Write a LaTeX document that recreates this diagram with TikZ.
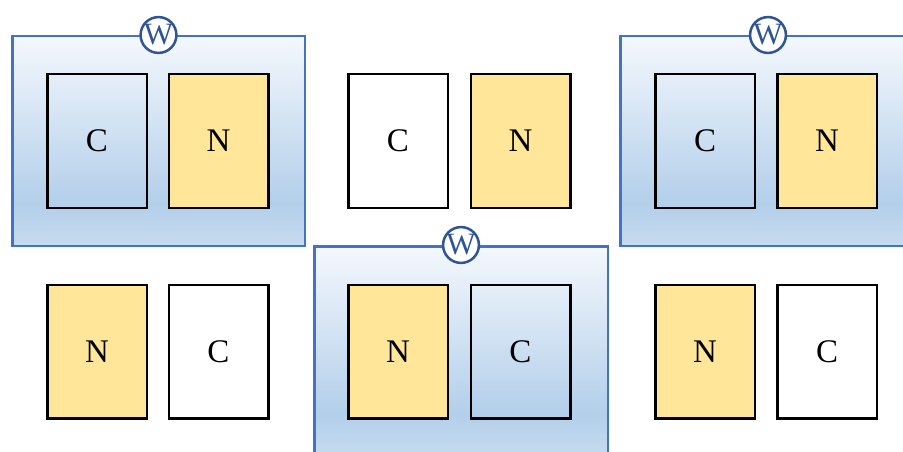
\documentclass[tikz,border=0pt]{standalone}
\usepackage{fontspec}
\setmainfont{Liberation Serif}
\definecolor{frameblue}{HTML}{4472C4}
\definecolor{wblue}{HTML}{2F5597}
\definecolor{nyellow}{HTML}{FFE699}
\definecolor{gtop}{HTML}{F4F8FD}
\definecolor{gmid}{HTML}{B3CFEA}
\definecolor{gbot}{HTML}{C6DBEF}
\pgfdeclareverticalshading{wbox}{100bp}{color(0bp)=(gbot); color(25bp)=(gbot); color(35bp)=(gmid); color(75bp)=(gtop); color(100bp)=(gtop)}
\tikzset{
  frame/.style={draw=frameblue, line width=2.5pt, shading=wbox, rectangle, inner sep=0pt},
  cbox/.style={draw=black, line width=2.5pt, rectangle, minimum width=99.5pt, minimum height=133.5pt, inner sep=0pt, font=\fontsize{33}{34}\selectfont},
  nbox/.style={cbox, fill=nyellow},
  wcirc/.style={circle, draw=wblue, fill=white, line width=2.5pt, minimum size=35.5pt, inner sep=0pt, text=wblue, font=\fontsize{31}{32}\selectfont}
}
\begin{document}
\begin{tikzpicture}[x=1pt,y=-1pt]
\useasboundingbox (0,0) rectangle (903,452);
\clip (0,0) rectangle (903,452);
% frames
\node[frame, minimum width=292.5pt, minimum height=209.5pt] (f1) at (158.5,141) {};
\node[frame, minimum width=292.5pt, minimum height=209.5pt] (f3) at (766.5,141) {};
\node[frame, minimum width=293.5pt, minimum height=209.5pt] (f2) at (461,351) {};
% top row
\node[cbox] (c1) at (97,141) {C};
\node[nbox] (n1) at (218.5,141) {N};
\node[cbox] (c2) at (398,141) {C};
\node[nbox] (n2) at (520.5,141) {N};
\node[cbox] (c3) at (705,141) {C};
\node[nbox] (n3) at (827,141) {N};
% bottom row
\node[nbox] (n4) at (97,351.5) {N};
\node[cbox] (c4) at (218.5,351.5) {C};
\node[nbox] (n5) at (398,351.5) {N};
\node[cbox] (c5) at (520.5,351.5) {C};
\node[nbox] (n6) at (705,351.5) {N};
\node[cbox] (c6) at (827,351.5) {C};
% W circles
\node[wcirc] (w1) at (f1.north) {W};
\node[wcirc] (w3) at (768,35) {W};
\node[wcirc] (w2) at (f2.north) {W};
\end{tikzpicture}
\end{document}
